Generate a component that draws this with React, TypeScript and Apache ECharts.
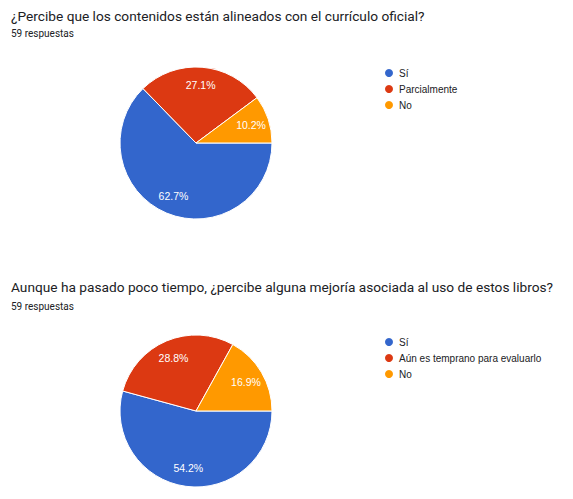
import React, { useEffect, useRef } from 'react';
import * as echarts from 'echarts';

const TITLE_1 = '¿Percibe que los contenidos están alineados con el currículo oficial?';
const TITLE_2 = 'Aunque ha pasado poco tiempo, ¿percibe alguna mejoría asociada al uso de estos libros?';
const SUBTITLE = '59 respuestas';

const CATEGORIES_1 = ['Sí', 'Parcialmente', 'No'];
const COUNTS_1 = [37, 16, 6];

const CATEGORIES_2 = ['Sí', 'Aún es temprano para evaluarlo', 'No'];
const COUNTS_2 = [32, 17, 10];

const COLORS = ['#3366cc', '#dc3912', '#ff9900'];

const R = 76;
const LABEL_R = 110;

function pctFormatter(counts: number[]) {
  const total = counts.reduce((a, b) => a + b, 0);
  return (p: any) => ((p.value / total) * 100).toFixed(1) + '%';
}

function slices(names: string[], counts: number[]) {
  return names.map((n, i) => ({ name: n, value: counts[i], itemStyle: { color: COLORS[i] } }));
}

function labelSlices(names: string[], counts: number[]) {
  return names.map((n, i) => ({ name: n, value: counts[i] }));
}

export default function App() {
  const ref = useRef<HTMLDivElement>(null);
  useEffect(() => {
    document.body.style.margin = '0';
    if (!ref.current) return;
    const chart = echarts.init(ref.current, null, { renderer: 'svg' });
    const titleStyle = { fontSize: 13.7, fontWeight: 'normal' as const, fontFamily: 'Roboto', color: '#202124' };
    const subStyle = { fontSize: 10, fontWeight: 'normal' as const, fontFamily: 'Roboto', color: '#202124' };
    const legendBase = {
      orient: 'vertical' as const,
      left: 383,
      icon: 'circle',
      itemWidth: 10,
      itemHeight: 10,
      itemGap: 4,
      padding: 0,
      selectedMode: false,
      textStyle: { fontSize: 10, fontFamily: 'Liberation Sans', color: '#202124' },
    };
    const pieBase = {
      type: 'pie' as const,
      radius: R,
      startAngle: 0,
      clockwise: true,
      silent: true,
      label: { show: false },
      labelLine: { show: false },
      itemStyle: { borderColor: '#ffffff', borderWidth: 1 },
      emphasis: { disabled: true },
    };
    const labelBase = {
      type: 'pie' as const,
      radius: LABEL_R,
      startAngle: 0,
      clockwise: true,
      silent: true,
      itemStyle: { color: 'rgba(0,0,0,0)' },
      labelLine: { show: false },
      emphasis: { disabled: true },
      z: 5,
    };
    const labelStyle = {
      show: true,
      position: 'inside' as const,
      color: '#ffffff',
      fontSize: 10.5,
      fontFamily: 'Liberation Sans',
    };
    chart.setOption({
      animation: false,
      title: [
        { text: TITLE_1, left: 11, top: 9, padding: 0, textStyle: titleStyle },
        { text: SUBTITLE, left: 11, top: 28.5, padding: 0, textStyle: subStyle },
        { text: TITLE_2, left: 11, top: 280, padding: 0, textStyle: titleStyle },
        { text: SUBTITLE, left: 11, top: 301, padding: 0, textStyle: subStyle },
      ],
      legend: [
        { ...legendBase, top: 67, data: CATEGORIES_1 },
        { ...legendBase, top: 336, data: CATEGORIES_2 },
      ],
      series: [
        { ...pieBase, name: 'p1', center: [196, 143], data: slices(CATEGORIES_1, COUNTS_1) },
        { ...pieBase, name: 'p2', center: [196, 411], data: slices(CATEGORIES_2, COUNTS_2) },
        {
          ...labelBase,
          name: 'l1',
          center: [196, 143],
          label: { ...labelStyle, formatter: pctFormatter(COUNTS_1) },
          data: labelSlices(CATEGORIES_1, COUNTS_1),
        },
        {
          ...labelBase,
          name: 'l2',
          center: [196, 411],
          label: { ...labelStyle, formatter: pctFormatter(COUNTS_2) },
          data: labelSlices(CATEGORIES_2, COUNTS_2),
        },
      ],
    });
    return () => chart.dispose();
  }, []);
  return <div ref={ref} style={{ width: 573, height: 499 }} />;
}
